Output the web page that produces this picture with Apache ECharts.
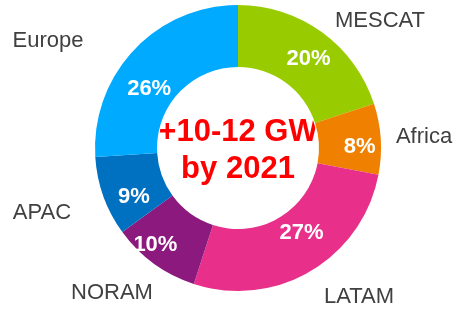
<!DOCTYPE html>
<html>
<head>
<meta charset="utf-8">
<script src="https://cdn.jsdelivr.net/npm/echarts@6/dist/echarts.min.js"></script>
<style>
  html, body { margin: 0; padding: 0; background: #fff; }
  #main { width: 456px; height: 311px; }
</style>
</head>
<body>
<div id="main"></div>
<script>
// regions, clockwise from 12 o'clock
var regions = ['MESCAT', 'Africa', 'LATAM', 'NORAM', 'APAC', 'Europe'];
var shares = [20, 8, 27, 10, 9, 26];
var colors = ['#99cc00', '#f08000', '#e8308a', '#8c1a7e', '#0070c0', '#00aaff'];

// where each region name sits around the ring
var namePos = {
  MESCAT: [380, 21],
  Africa: [424, 137],
  LATAM: [359, 297],
  NORAM: [112, 293],
  APAC: [42, 213],
  Europe: [48, 41]
};
// nudges for the % labels inside the ring
var pctShift = [[3, 4], [7, 6], [5, -14], [-15, 4], [4, 10], [-5, 20]];

var myChart = echarts.init(document.getElementById('main'));

var data = regions.map(function (r, i) {
  return { name: r, value: shares[i], itemStyle: { color: colors[i] } };
});

var option = {
  animation: false,
  series: [
    {
      type: 'pie',
      center: [238, 148],
      radius: [81, 143],
      startAngle: 90,
      clockwise: true,
      data: data,
      itemStyle: { borderColor: '#fff', borderWidth: 2 },
      label: {
        position: 'inside',
        formatter: '{c}%',
        color: '#fff',
        fontFamily: 'Liberation Sans',
        fontWeight: 'bold',
        fontSize: 22
      },
      labelLine: { show: false },
      labelLayout: function (p) {
        var s = pctShift[p.dataIndex];
        return { dx: s[0], dy: s[1] };
      }
    },
    {
      type: 'pie',
      center: [238, 148],
      radius: [81, 143],
      startAngle: 90,
      silent: true,
      data: data,
      itemStyle: { color: 'transparent' },
      label: {
        position: 'outside',
        formatter: '{b}',
        color: '#404040',
        fontFamily: 'Liberation Sans',
        fontSize: 22,
        overflow: 'none',
        width: 200
      },
      labelLine: { show: false },
      labelLayout: function (p) {
        var pos = namePos[regions[p.dataIndex]];
        return { x: pos[0], y: pos[1], align: 'center', verticalAlign: 'middle' };
      }
    }
  ],
  graphic: [
    {
      type: 'text',
      x: 238,
      y: 151,
      style: {
        text: '+10-12 GW\nby 2021',
        align: 'center',
        verticalAlign: 'middle',
        fill: '#ff0000',
        fontFamily: 'Liberation Sans',
        fontWeight: 'bold',
        fontSize: 31,
        lineHeight: 37
      }
    }
  ]
};

myChart.setOption(option);
</script>
</body>
</html>
